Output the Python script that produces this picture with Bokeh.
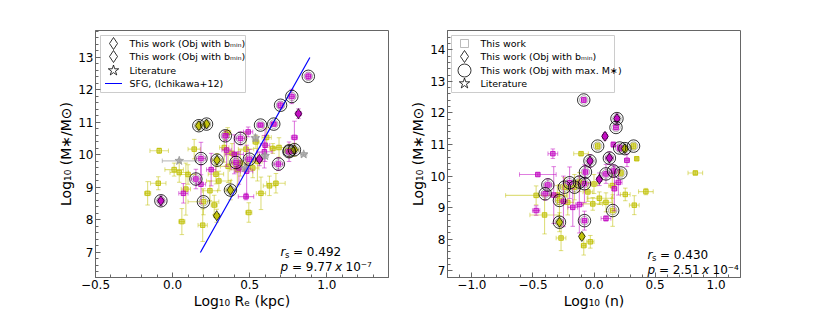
import numpy as np
from bokeh.plotting import figure
from bokeh.models import (Range1d, SingleIntervalTicker, CustomJSTickFormatter,
                          ColumnDataSource, Label)
from bokeh.layouts import row
from bokeh.embed import file_html
from bokeh.resources import INLINE

# ----------------------------------------------------------------- data
# Left panel: log10 Re (kpc) vs log10 M*
L_YEL_X = [0.17, 0.22, 0.357, 0.14, 0.335, 0.476, 0.61, 0.69, 0.757, 0.79, 0.288, -0.087,
           0.043, 0.281, -0.093, -0.162, 0.086, 0.20, 0.27, 0.242, 0.375, 0.573, 0.628, 0.67,
           0.06, 0.195, 0.286, 0.494, 0.30, 0.42, 0.52, 0.44, 0.01, 0.10, 0.36, 0.55, 0.385,
           0.65, 0.54]
L_YEL_Y = [10.90, 10.95, 10.69, 10.18, 10.23, 10.18, 10.54, 10.23, 10.13, 10.16, 9.84, 10.13,
           9.46, 9.41, 9.13, 8.82, 8.95, 8.56, 8.46, 8.90, 8.92, 8.82, 9.05, 9.13,
           7.95, 7.84, 8.13, 8.23, 9.20, 9.55, 9.60, 9.75, 9.55, 9.40, 9.65, 9.80, 10.05,
           10.20, 10.40]
L_YEL_XE = [0.02, 0.02, 0.02, 0.04, 0.03, 0.05, 0.03, 0.04, 0.03, 0.03, 0.03, 0.06,
            0.06, 0.05, 0.05, 0.02, 0.03, 0.10, 0.02, 0.05, 0.03, 0.03, 0.04, 0.06,
            0.02, 0.03, 0.02, 0.02, 0.08, 0.05, 0.04, 0.05, 0.06, 0.05, 0.05, 0.03, 0.04,
            0.02, 0.02]
L_YEL_YE = [0.12, 0.10, 0.15, 0.30, 0.45, 0.50, 0.30, 0.30, 0.20, 0.20, 0.20, 0.08,
            0.30, 0.30, 0.20, 0.36, 0.80, 0.40, 0.30, 0.30, 0.30, 0.50, 0.30, 0.30,
            0.40, 0.50, 0.20, 0.30, 0.30, 0.50, 0.30, 0.40, 0.20, 0.30, 0.50, 0.60, 0.30,
            0.15, 0.20]
L_YEL_CIRC = [1, 1, 0, 0, 0, 0, 0, 0, 1, 1, 1, 0,
              0, 0, 0, 0, 0, 1, 0, 0, 1, 0, 0, 0,
              0, 0, 0, 0, 0, 0, 0, 0, 0, 0, 0, 0, 0,
              0, 0]
L_YEL_DIAM = [1, 1, 0, 0, 0, 0, 0, 0, 0, 1, 1, 0,
              0, 0, 0, 0, 0, 0, 0, 0, 1, 0, 0, 0,
              0, 0, 1, 0, 0, 0, 0, 0, 0, 0, 0, 0, 0,
              0, 0]

L_MAG_X = [0.57, 0.656, 0.816, 0.773, 0.70, 0.88, 0.342, 0.44, 0.49, 0.79, 0.40, 0.595,
           0.184, 0.411, 0.498, 0.563, 0.686, 0.151, 0.184, 0.07, -0.076, 0.476, 0.48, 0.25,
           0.35, 0.43, 0.755, 0.60]
L_MAG_Y = [10.92, 10.95, 11.27, 11.80, 11.53, 12.42, 10.59, 10.51, 10.71, 10.54, 10.02, 10.10,
           9.89, 9.77, 9.87, 9.87, 9.72, 9.26, 9.10, 8.82, 8.59, 8.72, 9.50, 9.55,
           10.15, 9.60, 10.10, 10.30]
L_MAG_XE = [0.02, 0.02, 0.02, 0.02, 0.02, 0.02, 0.02, 0.03, 0.03, 0.02, 0.06, 0.05,
            0.03, 0.03, 0.03, 0.02, 0.03, 0.03, 0.03, 0.03, 0.02, 0.05, 0.04, 0.03,
            0.03, 0.05, 0.02, 0.03]
L_MAG_YE = [0.05, 0.05, 0.15, 0.22, 0.10, 0.10, 0.15, 0.20, 0.15, 0.50, 0.60, 0.50,
            0.50, 0.30, 0.30, 0.20, 0.20, 0.30, 0.60, 0.30, 0.15, 0.10, 0.80, 0.50,
            0.50, 0.50, 0.30, 0.50]
L_MAG_CIRC = [1, 1, 0, 1, 1, 1, 1, 1, 0, 0, 0, 0,
              1, 1, 1, 0, 1, 1, 0, 0, 1, 0, 0, 0,
              0, 0, 1, 0]
L_MAG_DIAM = [0, 0, 1, 0, 0, 0, 0, 0, 0, 0, 0, 0,
              0, 0, 0, 1, 0, 0, 0, 0, 1, 0, 0, 0,
              0, 0, 0, 0]

L_LIT_X = [0.043, 0.537, 0.85, 0.60, 0.47]
L_LIT_Y = [9.82, 10.52, 10.02, 9.97, 9.60]
L_LIT_XE = [0.11, 0.02, 0.02, 0.02, 0.02]
L_LIT_YE = [0.05, 0.10, 0.05, 0.08, 0.10]

SFG_X = [0.18, 0.89]
SFG_Y = [7.0, 13.0]

# Right panel: log10 n vs log10 M*
R_YEL_X = [0.03, 0.253, 0.324, 0.35, -0.106, 0.22, -0.242, -0.12, -0.283, -0.215, 0.153,
           -0.283, -0.405, -0.27, -0.10, -0.084, -0.03, 0.33, 0.256, 0.425, 0.044, 0.098,
           -0.01, -0.474, 0.83, -0.30, -0.16, 0.0, -0.05, 0.15]
R_YEL_Y = [10.95, 10.87, 10.95, 10.55, 10.71, 10.10, 9.65, 9.81, 9.23, 9.17, 8.91,
           8.54, 8.77, 8.04, 8.09, 7.80, 7.92, 9.08, 9.42, 9.51, 9.30, 9.17,
           9.12, 9.39, 10.10, 9.40, 9.65, 9.75, 9.50, 9.70]
R_YEL_XE = [0.02, 0.02, 0.02, 0.01, 0.06, 0.02, 0.03, 0.03, 0.03, 0.05, 0.02,
            0.02, 0.12, 0.04, 0.01, 0.02, 0.03, 0.04, 0.04, 0.06, 0.10, 0.05,
            0.08, 0.25, 0.06, 0.05, 0.04, 0.03, 0.04, 0.03]
R_YEL_YE = [0.10, 0.10, 0.10, 0.05, 0.05, 0.10, 0.30, 0.30, 0.50, 0.40, 0.50,
            0.30, 0.60, 0.40, 0.10, 0.30, 0.20, 0.30, 0.20, 0.10, 0.20, 0.30,
            0.20, 0.30, 0.05, 0.30, 0.40, 0.30, 0.30, 0.40]
R_YEL_CIRC = [1, 1, 1, 0, 0, 1, 1, 1, 1, 0, 1,
              1, 0, 0, 0, 0, 0, 0, 0, 0, 0, 0,
              0, 0, 0, 0, 1, 0, 0, 0]
R_YEL_DIAM = [0, 1, 0, 0, 0, 0, 0, 0, 0, 0, 0,
              1, 0, 0, 1, 0, 0, 0, 0, 0, 0, 0,
              0, 0, 0, 0, 0, 0, 0, 0]

R_MAG_X = [-0.084, 0.188, 0.18, 0.09, 0.158, 0.21, 0.27, -0.033, 0.126, -0.337, -0.07,
           0.098, 0.16, 0.044, -0.46, -0.378, -0.40, -0.20, -0.078, -0.078, -0.474, -0.174,
           0.098, 0.167, -0.33, -0.25, -0.12, 0.20]
R_MAG_Y = [12.41, 11.82, 11.54, 11.26, 11.00, 10.89, 10.50, 10.48, 10.57, 10.71, 10.13,
           10.07, 10.16, 9.90, 10.05, 9.72, 9.44, 9.79, 9.76, 8.59, 8.91, 9.01,
           8.66, 9.60, 9.40, 9.20, 9.10, 9.80]
R_MAG_XE = [0.02, 0.02, 0.02, 0.02, 0.01, 0.02, 0.02, 0.02, 0.03, 0.04, 0.02,
            0.03, 0.02, 0.02, 0.15, 0.03, 0.03, 0.05, 0.05, 0.02, 0.03, 0.04,
            0.04, 0.02, 0.03, 0.03, 0.03, 0.03]
R_MAG_YE = [0.08, 0.15, 0.08, 0.12, 0.08, 0.10, 0.20, 0.20, 0.20, 0.15, 0.20,
            0.30, 0.20, 0.20, 0.05, 0.20, 0.20, 0.50, 0.60, 0.30, 0.15, 0.60,
            0.08, 0.70, 0.90, 0.80, 0.90, 0.40]
R_MAG_CIRC = [1, 1, 1, 0, 0, 1, 0, 1, 1, 0, 1,
              1, 1, 0, 0, 1, 1, 1, 1, 1, 0, 0,
              0, 0, 0, 0, 0, 0]
R_MAG_DIAM = [0, 1, 0, 1, 0, 0, 0, 1, 1, 0, 0,
              0, 0, 1, 0, 0, 0, 0, 0, 0, 0, 0,
              0, 0, 0, 0, 0, 0]

LEFT_STATS = ("0.492", "9.77", "\u207b\u2077")
RIGHT_STATS = ("0.430", "2.51", "\u207b\u2074")

LEFT_LEGEND = ["This work (Obj with b\u2098\u1d62\u2099)", "This work (Obj with b\u2098\u1d62\u2099)",
               "Literature", "SFG, (Ichikawa+12)"]
RIGHT_LEGEND = ["This work", "This work (Obj with b\u2098\u1d62\u2099)",
                "This work (Obj with max. M\u2217)", "Literature"]

# ----------------------------------------------------------------- style
YEL = "#bfbf00"
MAG = "#bf00bf"
GRAY = "#999999"
FRAME = "#666666"
FONT = "DejaVu Sans"
FW, FH = 293, 247


def make_fig(xr, yr, xlabel, min_left, min_right):
    p = figure(frame_width=FW, frame_height=FH,
               x_range=Range1d(*xr), y_range=Range1d(*yr),
               output_backend="svg", toolbar_location=None,
               min_border_left=min_left, min_border_right=min_right,
               min_border_top=30, min_border_bottom=30)
    p.extra_x_ranges = {"px": Range1d(0, FW)}
    p.extra_y_ranges = {"px": Range1d(0, FH)}
    p.grid.visible = False
    p.outline_line_color = FRAME
    p.outline_line_width = 1
    p.background_fill_color = "white"
    p.border_fill_color = "white"
    p.xaxis.ticker = SingleIntervalTicker(interval=0.5, num_minor_ticks=5)
    p.yaxis.ticker = SingleIntervalTicker(interval=1, num_minor_ticks=5)
    p.xaxis.formatter = CustomJSTickFormatter(code="return tick.toFixed(1).replace('-', '\u2212');")
    p.yaxis.formatter = CustomJSTickFormatter(code="return tick.toFixed(0);")
    p.xaxis.axis_label = xlabel
    p.yaxis.axis_label = "Log\u2081\u2080 (M\u2217/M\u2299)"
    for ax in (p.xaxis[0], p.yaxis[0]):
        ax.major_tick_in = 5
        ax.major_tick_out = 0
        ax.minor_tick_in = 3
        ax.minor_tick_out = 0
        ax.axis_line_color = FRAME
        ax.major_tick_line_color = FRAME
        ax.minor_tick_line_color = FRAME
        ax.major_label_text_font = FONT
        ax.major_label_text_font_size = "12px"
        ax.major_label_text_color = "black"
        ax.major_label_standoff = 2
        ax.axis_label_text_font = FONT
        ax.axis_label_text_font_size = "14px"
        ax.axis_label_text_font_style = "normal"
        ax.axis_label_text_color = "black"
        ax.axis_label_standoff = 1
    return p


def draw_group(p, xs, ys, xe, ye, color, marker="square", size=4.5, alpha=0.5):
    x = np.array(xs, float)
    y = np.array(ys, float)
    xe = np.array(xe, float)
    ye = np.array(ye, float)
    src = ColumnDataSource(dict(x=x, y=y, x0=x - xe, x1=x + xe, y0=y - ye, y1=y + ye))
    kw = dict(source=src, line_color=color, line_alpha=alpha)
    p.segment(x0="x0", y0="y", x1="x1", y1="y", line_width=1.1, **kw)
    p.segment(x0="x", y0="y0", x1="x", y1="y1", line_width=1.1, **kw)
    p.scatter(x="x", y="y0", marker="dash", size=4.5, line_width=1, **kw)
    p.scatter(x="x", y="y1", marker="dash", size=4.5, line_width=1, **kw)
    p.scatter(x="x0", y="y", marker="dash", angle=np.pi / 2, size=4.5, line_width=1, **kw)
    p.scatter(x="x1", y="y", marker="dash", angle=np.pi / 2, size=4.5, line_width=1, **kw)
    p.scatter(x="x", y="y", marker=marker, size=size, source=src,
              fill_color=color, fill_alpha=alpha, line_color=color, line_alpha=0.85,
              line_width=1)


def draw_flags(p, xs, ys, circ, diam, color):
    x = np.array(xs, float)
    y = np.array(ys, float)
    d = np.array(diam, bool)
    c = np.array(circ, bool)
    if d.any():
        p.scatter(x[d], y[d], marker="diamond", size=10, fill_color=color, fill_alpha=0.8,
                  line_color="black", line_width=0.7)
    if c.any():
        p.scatter(x[c], y[c], marker="circle", size=12.5, fill_color=None,
                  line_color="black", line_width=0.8)
        p.scatter(x[c], y[c], marker="circle", size=8.5, fill_color=None,
                  line_color="black", line_alpha=0.5, line_width=0.6)


def draw_legend(p, box, gx, tx, rows, entries, labels):
    l, r, b, t = box
    p.quad(left=[l], right=[r], bottom=[b], top=[t], x_range_name="px", y_range_name="px",
           fill_color="white", fill_alpha=0.85, line_color="#cccccc", line_width=1)
    for yy, ent, lab in zip(rows, entries, labels):
        if ent[0] == "line":
            p.segment(x0=[gx - 8.5], x1=[gx + 8.5], y0=[yy], y1=[yy], x_range_name="px",
                      y_range_name="px", line_color="blue", line_width=1.2)
        else:
            mk, sz, lc = ent
            p.scatter([gx], [yy], marker=mk, size=sz, x_range_name="px", y_range_name="px",
                      fill_color=None, line_color=lc, line_width=0.8)
        p.add_layout(Label(x=tx, y=yy, x_range_name="px", y_range_name="px", text=lab,
                           text_font=FONT, text_font_size="9.5px", text_baseline="middle",
                           text_color="black"))


def draw_stats(p, x0, yb_r, yb_p, stats):
    rs, pv, ex = stats
    common = dict(x_range_name="px", y_range_name="px", text_font=FONT,
                  text_baseline="alphabetic", text_color="black")
    p.add_layout(Label(x=x0, y=yb_r, text="r", text_font_size="12px",
                       text_font_style="italic", **common))
    p.add_layout(Label(x=x0 + 4.5, y=yb_r - 3, text="s", text_font_size="8.5px", **common))
    p.add_layout(Label(x=x0 + 12.5, y=yb_r, text="= " + rs, text_font_size="12px", **common))
    p.add_layout(Label(x=x0, y=yb_p, text="p", text_font_size="12px",
                       text_font_style="italic", **common))
    p.add_layout(Label(x=x0 + 11.5, y=yb_p, text="= " + pv, text_font_size="12px", **common))
    p.add_layout(Label(x=x0 + 54.5, y=yb_p, text="x", text_font_size="12px",
                       text_font_style="italic", **common))
    p.add_layout(Label(x=x0 + 65, y=yb_p, text="10" + ex, text_font_size="12px", **common))


# ----------------------------------------------------------------- left
pl = make_fig((-0.5, 1.4), (6.23, 13.83), "Log\u2081\u2080 R\u2091 (kpc)", 95, 4)
draw_group(pl, L_YEL_X, L_YEL_Y, L_YEL_XE, L_YEL_YE, YEL)
draw_group(pl, L_MAG_X, L_MAG_Y, L_MAG_XE, L_MAG_YE, MAG)
draw_group(pl, L_LIT_X, L_LIT_Y, L_LIT_XE, L_LIT_YE, GRAY, marker="star", size=9, alpha=0.6)
pl.line(SFG_X, SFG_Y, line_color="blue", line_width=1.2)
draw_flags(pl, L_YEL_X, L_YEL_Y, L_YEL_CIRC, L_YEL_DIAM, YEL)
draw_flags(pl, L_MAG_X, L_MAG_Y, L_MAG_CIRC, L_MAG_DIAM, MAG)
ROWS = [234, 221, 207, 194]
draw_legend(pl, (5, 150, 185, 242), 18, 34, ROWS,
            [("diamond", 12, "black"), ("diamond", 12, "black"), ("star", 11, "black"), ("line",)],
            LEFT_LEGEND)
draw_stats(pl, 185, 26, 11, LEFT_STATS)

# ----------------------------------------------------------------- right
pr = make_fig((-1.2, 1.2), (6.79, 14.61), "Log\u2081\u2080 (n)", 55, 10)
draw_group(pr, R_YEL_X, R_YEL_Y, R_YEL_XE, R_YEL_YE, YEL)
draw_group(pr, R_MAG_X, R_MAG_Y, R_MAG_XE, R_MAG_YE, MAG)
draw_flags(pr, R_YEL_X, R_YEL_Y, R_YEL_CIRC, R_YEL_DIAM, YEL)
draw_flags(pr, R_MAG_X, R_MAG_Y, R_MAG_CIRC, R_MAG_DIAM, MAG)
draw_legend(pr, (4, 167, 185, 242), 17, 33, ROWS,
            [("square", 8, "#aaaaaa"), ("diamond", 12, "black"), ("circle", 13, "black"),
             ("star", 11, "black")],
            RIGHT_LEGEND)
draw_stats(pr, 200, 22.5, 7.5, RIGHT_STATS)

layout = row(pl, pr)
open("out.html", "w").write(file_html(layout, INLINE))
